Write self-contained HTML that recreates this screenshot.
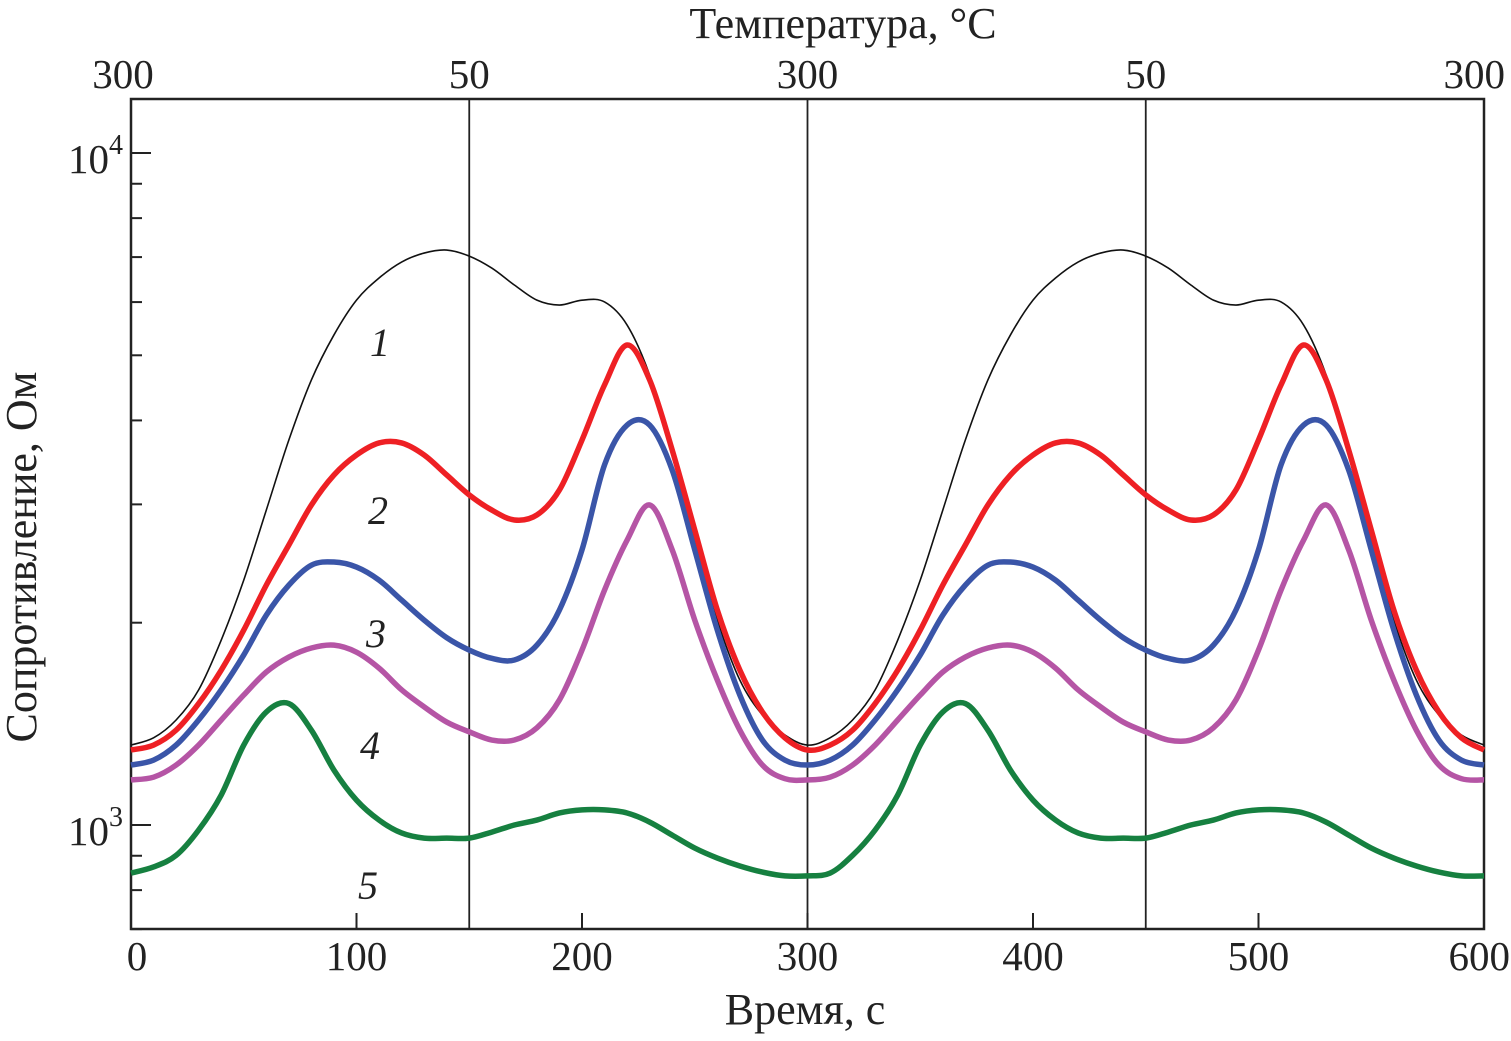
<!DOCTYPE html>
<html><head><meta charset="utf-8"><style>
body{margin:0;background:#fff}
svg text{font-family:"Liberation Serif",serif;fill:#222}
</style></head><body>
<svg id="chart" width="1511" height="1036" viewBox="0 0 1511 1036" xmlns="http://www.w3.org/2000/svg"></svg>
<script>
const times=[0,10,20,30,40,50,60,70,80,90,100,110,120,130,140,150,160,170,180,190,200,210,220,230,240,250,260,270,280,290,300,310,320,330,340,350,360,370,380,390,400,410,420,430,440,450,460,470,480,490,500,510,520,530,540,550,560,570,580,590,600];
const s1=[1315,1348,1433,1589,1884,2314,2942,3740,4595,5361,6040,6516,6883,7097,7171,7024,6741,6362,6040,5940,6040,6002,5546,4673,3614,2654,2018,1643,1458,1361,1315,1348,1433,1589,1884,2314,2942,3740,4595,5361,6040,6516,6883,7097,7171,7024,6741,6362,6040,5940,6040,6002,5546,4673,3614,2654,2018,1643,1458,1361,1315];
const s2=[1293,1315,1384,1516,1700,1950,2275,2610,2994,3318,3553,3703,3703,3553,3318,3099,2942,2844,2893,3152,3740,4518,5180,4595,3614,2748,2089,1700,1473,1348,1293,1315,1384,1516,1700,1950,2275,2610,2994,3318,3553,3703,3703,3553,3318,3099,2942,2844,2893,3152,3740,4518,5180,4595,3614,2748,2089,1700,1473,1348,1293];
const s3=[1228,1249,1315,1433,1589,1791,2053,2275,2436,2462,2420,2314,2161,2018,1900,1821,1770,1760,1852,2089,2567,3435,3937,3937,3374,2567,1950,1561,1338,1249,1228,1249,1315,1433,1589,1791,2053,2275,2436,2462,2420,2314,2161,2018,1900,1821,1770,1760,1852,2089,2567,3435,3937,3937,3374,2567,1950,1561,1338,1249,1228];
const s4=[1167,1178,1228,1315,1433,1561,1689,1778,1834,1852,1808,1712,1589,1499,1423,1376,1338,1338,1395,1535,1821,2237,2654,2994,2567,2018,1643,1384,1228,1172,1167,1178,1228,1315,1433,1561,1689,1778,1834,1852,1808,1712,1589,1499,1423,1376,1338,1338,1395,1535,1821,2237,2654,2994,2567,2018,1643,1384,1228,1172,1167];
const s5=[848,866,901,983,1108,1315,1473,1516,1384,1207,1089,1017,973,956,956,956,976,1000,1017,1042,1053,1053,1042,1010,966,924,893,869,851,840,840,848,901,983,1108,1315,1473,1516,1384,1207,1089,1017,973,956,956,956,976,1000,1017,1042,1053,1053,1042,1010,966,924,893,869,851,840,840];
const xTicks=[0,100,200,300,400,500,600];
const topTicks=[0,150,300,450,600];
const topLabels=["300","50","300","50","300"];
const minorY=[700,800,900,2000,3000,4000,5000,6000,7000,8000,9000];
const NS="http://www.w3.org/2000/svg";
const svg=document.getElementById('chart');
const L=131,R=1484,T=99,B=929;
const X=t=>L+(R-L)*t/600;
const Y=v=>153+(4-Math.log10(v))*672;
function mk(tag,attrs,txt){const e=document.createElementNS(NS,tag);for(const k in attrs)e.setAttribute(k,attrs[k]);if(txt!==undefined)e.textContent=txt;svg.appendChild(e);return e;}
let fr=mk('rect',{x:L,y:T,width:R-L,height:B-T,fill:'none',stroke:'#222','stroke-width':2.5});


topTicks.forEach((t,i)=>{
 if(t>0&&t<600){const ln=mk('line',{x1:X(t),x2:X(t),y1:T,y2:B,stroke:'#222','stroke-width':1.8});
 
 }
 const tx=mk('text',t===600?{x:1505,y:88,'font-size':41,'text-anchor':'end'}:{x:X(t)-(t===0?8:0),y:88,'font-size':41,'text-anchor':'middle'},topLabels[i]);
 
 
});
xTicks.forEach(t=>{
 const tk=mk('line',{x1:X(t),x2:X(t),y1:B,y2:B-16,stroke:'#222','stroke-width':2});
 
 
 const tx=mk('text',t===600?{x:1510,y:970,'font-size':41,'text-anchor':'end'}:{x:X(t)+(t===0?6:0),y:970,'font-size':41,'text-anchor':'middle'},String(t));
 
 
});
[1000,10000].forEach(v=>{
 const tk=mk('line',{x1:L,x2:L+20,y1:Y(v),y2:Y(v),stroke:'#222','stroke-width':2});
 
 
 const tx=mk('text',{x:L-8,y:Y(v)+20,'font-size':41,'text-anchor':'end'});
 
 
 tx.innerHTML='10<tspan dy="-19" font-size="28">'+Math.round(Math.log10(v))+'</tspan>';
});
minorY.forEach(v=>{
 const tk=mk('line',{x1:L,x2:L+11,y1:Y(v),y2:Y(v),stroke:'#222','stroke-width':2});
 
 
});
function path(vals){
 const p=vals.map((v,i)=>[X(times[i]),Y(v)]);
 let d='M'+p[0][0]+','+p[0][1];
 for(let i=0;i<p.length-1;i++){
  const p0=p[Math.max(0,i-1)],p1=p[i],p2=p[i+1],p3=p[Math.min(p.length-1,i+2)];
  d+=' C'+(p1[0]+(p2[0]-p0[0])/6)+','+(p1[1]+(p2[1]-p0[1])/6)+' '+(p2[0]-(p3[0]-p1[0])/6)+','+(p2[1]-(p3[1]-p1[1])/6)+' '+p2[0]+','+p2[1];
 }
 return d;
}
const series=[[s1,'#111',1.6,'curve-1'],[s5,'#168040',5.5,'curve-5'],[s4,'#b555a5',5.5,'curve-4'],[s3,'#3a55a8',5.5,'curve-3'],[s2,'#ee2024',5.5,'curve-2']];
series.forEach(s=>{
 const e=mk('path',{d:path(s[0]),fill:'none',stroke:s[1],'stroke-width':s[2],'stroke-linejoin':'round'});
 
 
});
[["1",380,356],["2",378,524],["3",376,647],["4",370,759],["5",368,899]].forEach(l=>{
 const tx=mk('text',{x:l[1],y:l[2],'font-size':40,'font-style':'italic','text-anchor':'middle'},l[0]);
 
 
});
let t1=mk('text',{x:805,y:1024,'font-size':44,'text-anchor':'middle'},'Время, с');


let t2=mk('text',{x:843,y:38,'font-size':44,'text-anchor':'middle'},'Температура, °С');


let t3=mk('text',{x:0,y:0,'font-size':44,'text-anchor':'middle',transform:'translate(36,557) rotate(-90)'},'Сопротивление, Ом');


</script>
</body></html>
